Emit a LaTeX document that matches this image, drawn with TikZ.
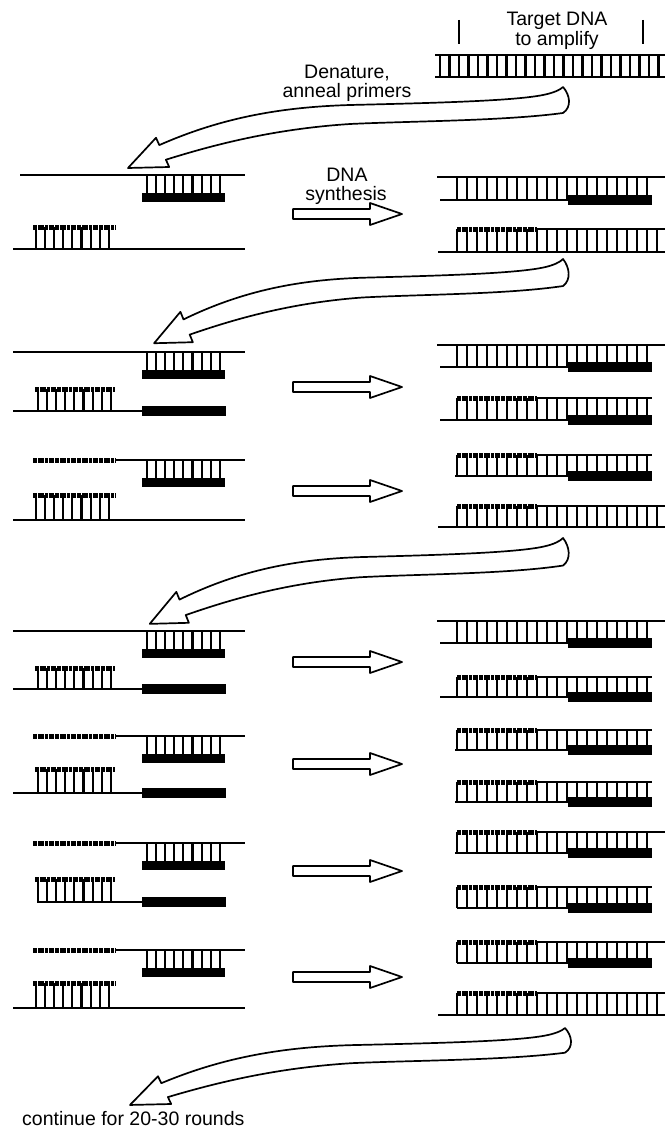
\documentclass[tikz,border=0pt]{standalone}
\usepackage{fontspec}
\setmainfont{Liberation Sans}
\newcommand\myrungs[5]{\foreach \i in {0,...,#3}{\draw[rung] ({#1+\i*#2},#4) -- ({#1+\i*#2},#5);}}
% left: strand + rungs + bar (xstart, y)
\newcommand\LA[2]{%
  \draw[strand] (#1,#2) -- (245,#2);
  \myrungs{147}{9.1}{8}{#2}{#2+18}
  \fill (142,#2+17.5) rectangle (225,#2+27);}
% left: primer + line + rungs + bar
\newcommand\LD[1]{%
  \LA{115}{#1}
  \draw[speck] (33,#1) -- (115,#1);}
% left: primer, rungs, full bottom strand (y, yb)
\newcommand\LB[2]{%
  \draw[speck] (33,#1) -- (115,#1);
  \myrungs{36}{9.1}{8}{#1}{#2}
  \draw[strand] (13,#2) -- (245,#2);}
% left: primer, rungs, bottom strand then bar (y, yb, xstart)
\newcommand\LC[3]{%
  \draw[speck] (35,#1) -- (115,#1);
  \myrungs{38}{9.1}{8}{#1}{#2}
  \draw[strand] (#3,#2) -- (142,#2);
  \fill (142,#2-5) rectangle (226,#2+5);}
% right: full top, bottom thin + bar (yt, yb)
\newcommand\RA[2]{%
  \draw[strand] (437,#1) -- (665,#1);
  \myrungs{457}{10}{19}{#1}{#2}
  \draw[strand] (440,#2) -- (568,#2);
  \fill (568,#2-5) rectangle (652,#2+5);}
% right: primer top + line to xend, bottom thin from xs + bar (yt, yb, xs, xend)
\newcommand\RC[4]{%
  \draw[speck] (457,#1) -- (537,#1);
  \draw[strand] (537,#1) -- (#4,#1);
  \myrungs{457}{10}{19}{#1}{#2}
  \draw[strand] (#3,#2) -- (568,#2);
  \fill (568,#2-5) rectangle (652,#2+5);}
% right: primer top + line, full bottom (yt, yb)
\newcommand\RD[2]{%
  \draw[speck] (457,#1) -- (537,#1);
  \draw[strand] (537,#1) -- (665,#1);
  \myrungs{457}{10}{20}{#1}{#2}
  \draw[strand] (438,#2) -- (665,#2);}
\newcommand\smallarrow[1]{%
  \draw[hollow] (293,#1-5) -- (370,#1-5) -- (370,#1-11) -- (402,#1) -- (370,#1+11) -- (370,#1+5) -- (293,#1+5) -- cycle;}
\newcommand\bigarrow[4]{%
  \begin{scope}[shift={(#1,#2)},xscale=#3,yscale=#4]
    \draw[hollow] (-435,81) -- (-407,50.8) -- (-403.7,58.1)
      .. controls (-340,30) and (-280,20) .. (-213,18)
      .. controls (-130,16) and (-50,14) .. (-20,8)
      .. controls (-10,6) and (-3,3) .. (0,0)
      .. controls (7,8) and (9,20) .. (0,26)
      .. controls (-60,34) and (-150,34) .. (-213,37)
      .. controls (-290,42) and (-350,58) .. (-397.1,72.7)
      -- (-393.8,80) -- cycle;
  \end{scope}}
\begin{document}
\begin{tikzpicture}[x=1pt,y=-1pt,
  strand/.style={line width=2.6pt},
  rung/.style={line width=2.1pt},
  speck/.style={line width=5pt, dash pattern=on 4pt off 0.8pt on 6pt off 1pt on 3pt off 0.8pt on 5pt off 1.5pt},
  hollow/.style={draw, line width=1.7pt, fill=white, line join=round},
  lbl/.style={font=\fontsize{19.5}{19}\selectfont, inner sep=0pt, anchor=base}]
\useasboundingbox (0,0) rectangle (665,1132);
\fill[white] (0,0) rectangle (665,1132);

% target DNA
\node[lbl] (target1) at (557,26) {Target DNA};
\node[lbl] (target2) at (557,46) {to amplify};
\draw[line width=2.2pt] (459,20) -- (459,44);
\draw[line width=2.2pt] (643,20) -- (643,44);
\draw[strand] (435,55) -- (665,55);
\draw[strand] (435,77) -- (665,77);
\myrungs{440}{9.5}{23}{55}{77}

% arrow 1
\bigarrow{563}{87}{1}{1}
\node[lbl] (denat1) at (347,78) {Denature,};
\node[lbl] (denat2) at (347,97) {anneal primers};

% round 1
\LA{20}{175}
\LB{227}{249}
\node[lbl] (synth1) at (347,181) {DNA};
\node[lbl] (synth2) at (346,200) {synthesis};
\smallarrow{214}
\RA{177}{200}
\RD{229}{252}

% arrow 2
\bigarrow{563}{259}{0.94}{1.04}

% round 2 left
\LA{13}{352}
\LC{389}{411}{13}
\LD{460}
\LB{495}{520}
\smallarrow{387}
\smallarrow{491}
% round 2 right
\RA{345}{367}
\RC{398}{420}{440}{652}
\RC{455}{476}{455}{652}
\RD{506}{527}

% arrow 3
\bigarrow{563}{538}{0.95}{1.06}

% round 3 left
\LA{13}{631}
\LC{668}{689}{13}
\LD{736}
\LC{769}{793}{13}
\LD{843}
\LC{879}{902}{37}
\LD{950}
\LB{983}{1008}
\smallarrow{662}
\smallarrow{764}
\smallarrow{871}
\smallarrow{977}
% round 3 right
\RA{621}{643}
\RC{677}{697}{440}{652}
\RC{730}{750}{455}{652}
\RC{782}{802}{455}{652}
\RC{832}{853}{455}{665}
\RC{887}{908}{457}{652}
\RC{942}{963}{457}{665}
\RD{993}{1015}

% arrow 4
\bigarrow{565}{1028}{1}{0.95}
\node[lbl, anchor=base west] (cont) at (22,1125) {continue for 20-30 rounds};
\end{tikzpicture}
\end{document}
